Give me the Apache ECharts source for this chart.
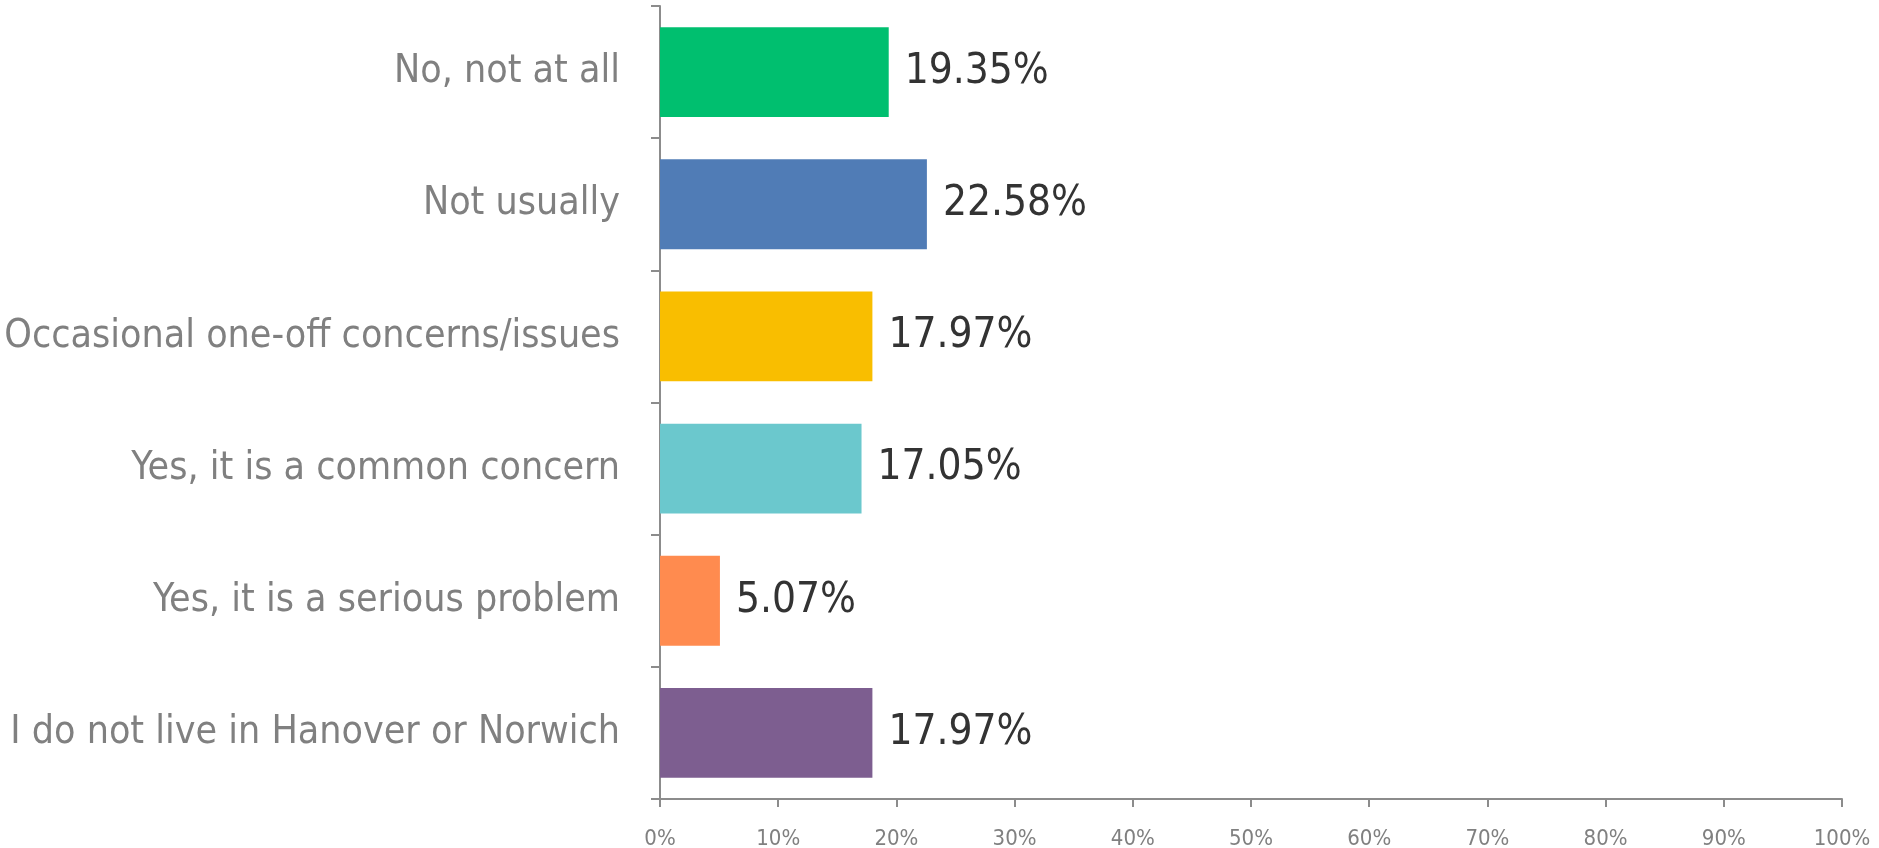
<!DOCTYPE html>
<html>
<head>
<meta charset="utf-8">
<script src="https://cdn.jsdelivr.net/npm/echarts@6/dist/echarts.min.js"></script>
<style>html,body{margin:0;padding:0;background:#fff}#c{width:1879px;height:848px}</style>
</head>
<body>
<div id="c"></div>
<script>
const categories = [
  "No, not at all",
  "Not usually",
  "Occasional one-off concerns/issues",
  "Yes, it is a common concern",
  "Yes, it is a serious problem",
  "I do not live in Hanover or Norwich"
];
const values = [19.35, 22.58, 17.97, 17.05, 5.07, 17.97];
const colors = ["#00BF6F", "#507CB6", "#F9BE00", "#6BC8CD", "#FF8B4F", "#7D5E90"];
const xTicks = [0, 10, 20, 30, 40, 50, 60, 70, 80, 90, 100];

const FONT = "'DejaVu Sans Condensed', 'Liberation Sans Narrow', Lato, sans-serif";
const chart = echarts.init(document.getElementById('c'));
chart.setOption({
  animation: false,
  grid: { left: 660, right: 37, top: 6, bottom: 49, containLabel: false, outerBoundsMode: 'none' },
  xAxis: {
    type: 'value', min: xTicks[0], max: xTicks[xTicks.length - 1], interval: xTicks[1] - xTicks[0],
    axisLine: { show: true, lineStyle: { color: '#8c8c8c', width: 2 } },
    axisTick: { show: true, length: 8, lineStyle: { color: '#8c8c8c', width: 2 } },
    splitLine: { show: false },
    axisLabel: { formatter: v => v + '%', color: '#808080', fontFamily: FONT, fontSize: 22, margin: 29 }
  },
  yAxis: {
    type: 'category', inverse: true, data: categories,
    axisLine: { show: true, lineStyle: { color: '#8c8c8c', width: 2 } },
    axisTick: { show: true, length: 9, lineStyle: { color: '#8c8c8c', width: 2 } },
    axisLabel: { color: '#808080', fontFamily: FONT, fontSize: 39, margin: 40, padding: [10, 0, 0, 0] }
  },
  series: [{
    type: 'bar',
    data: values.map((v, i) => ({ value: v, itemStyle: { color: colors[i] } })),
    barCategoryGap: '32%',
    label: {
      show: true, position: 'right', distance: 16, padding: [10, 0, 0, 0],
      formatter: p => p.value.toFixed(2) + '%',
      color: '#333333', fontFamily: FONT, fontSize: 42
    }
  }]
});
</script>
</body>
</html>
